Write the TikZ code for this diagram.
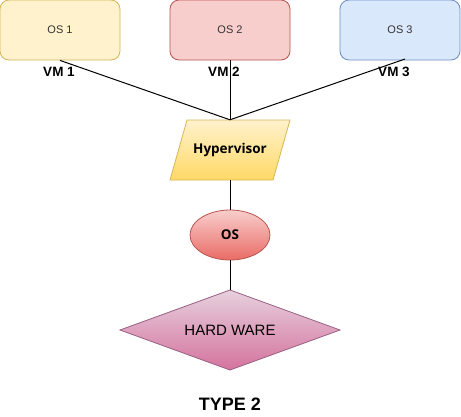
\documentclass[tikz,border=0pt]{standalone}
\usepackage{fontspec}
\setmainfont{Liberation Sans}
\newfontfamily\hypfont{Open Sans}
\usetikzlibrary{shapes.geometric}
\definecolor{yfill}{HTML}{FFF2CC}
\definecolor{ystroke}{HTML}{D6B656}
\definecolor{ydark}{HTML}{FFD966}
\definecolor{rfill}{HTML}{F8CECC}
\definecolor{rstroke}{HTML}{B85450}
\definecolor{rdark}{HTML}{EA6B66}
\definecolor{bfill}{HTML}{DAE8FC}
\definecolor{bstroke}{HTML}{6C8EBF}
\definecolor{pfill}{HTML}{E6D0DE}
\definecolor{pdark}{HTML}{D5739D}
\definecolor{pstroke}{HTML}{996185}
\definecolor{txtgray}{HTML}{333333}
\begin{document}
\begin{tikzpicture}[x=1pt,y=-1pt,
  osbox/.style={draw, rounded corners=9pt, minimum width=120pt, minimum height=60pt, inner sep=0pt, line width=0.8pt,
    font=\fontsize{11}{13}\selectfont, text=txtgray},
  vmlabel/.style={font=\fontsize{13.5}{15}\selectfont\bfseries, inner sep=0pt},
  link/.style={draw=black, line width=1pt}
]
\useasboundingbox (0,0) rectangle (461,416);
\node[osbox, fill=yfill, draw=ystroke] (os1) at (60,30) {OS 1};
\node[osbox, fill=rfill, draw=rstroke] (os2) at (230,30) {OS 2};
\node[osbox, fill=bfill, draw=bstroke] (os3) at (400,30) {OS 3};
\node[vmlabel] (vm1) at (59,72) {VM 1};
\node[vmlabel] (vm2) at (224,72) {VM 2};
\node[vmlabel] (vm3) at (394,72) {VM 3};
\coordinate (v3) at (405,59);
% hypervisor parallelogram
\shade[top color=yfill, bottom color=ydark, draw=ystroke, line width=0.8pt]
  (187,120) -- (290,120) -- (273,180) -- (170,180) -- cycle;
\node[minimum width=120pt, minimum height=60pt, inner sep=0pt,
  font=\hypfont\fontsize{13.5}{15}\selectfont\bfseries] (hyp) at (230,150) {Hypervisor};
\node[ellipse, minimum width=80pt, minimum height=50pt, inner sep=0pt,
  top color=rfill, bottom color=rdark, draw=rstroke, line width=0.8pt,
  font=\hypfont\fontsize{13.5}{15}\selectfont\bfseries] (os) at (230,235) {OS};
% hardware diamond
\shade[top color=pfill, bottom color=pdark, draw=pstroke, line width=0.8pt]
  (120,330) -- (230,290) -- (340,330) -- (230,370) -- cycle;
\node[minimum width=220pt, minimum height=80pt, inner sep=0pt,
  font=\fontsize{15}{17}\selectfont] (hw) at (230,330) {HARD WARE};
\node[font=\fontsize{18}{20}\selectfont\bfseries, inner sep=0pt] (type) at (230,404) {TYPE 2};
\draw[link] (os1.south) -- (hyp.north);
\draw[link] (os2.south) -- (hyp.north);
\draw[link] (v3) -- (hyp.north);
\draw[link] (hyp.south) -- (os.north);
\draw[link] (os.south) -- (hw.north);
\end{tikzpicture}
\end{document}
